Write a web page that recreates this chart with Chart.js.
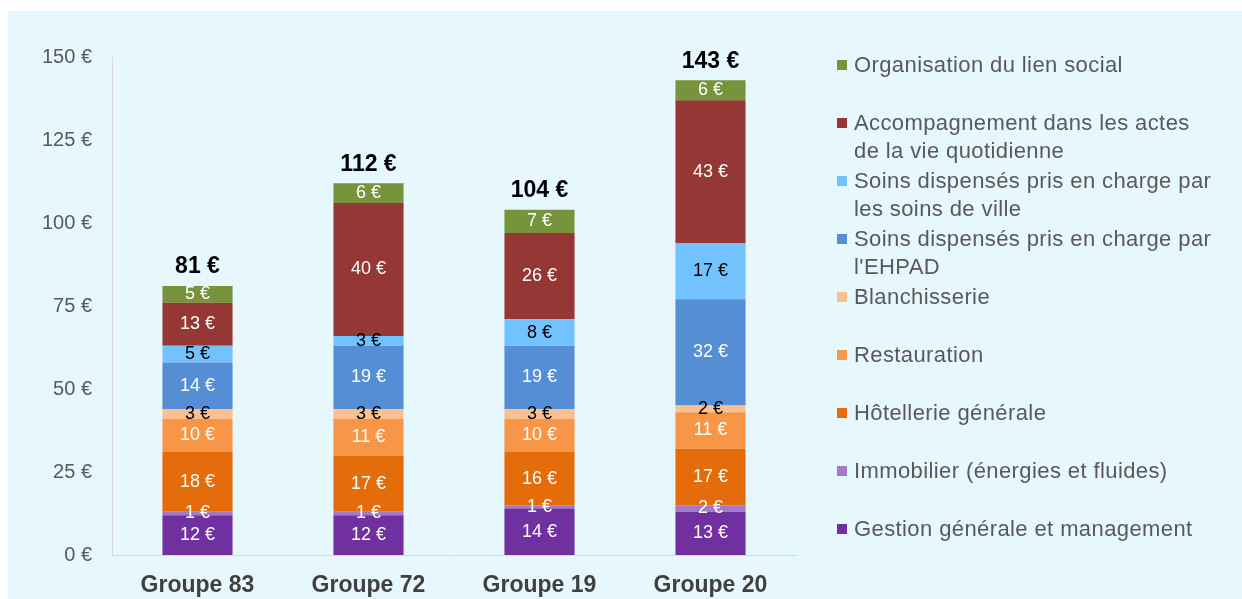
<!DOCTYPE html>
<html>
<head>
<meta charset="utf-8">
<script src="https://cdn.jsdelivr.net/npm/chart.js@4.4.1/dist/chart.umd.min.js"></script>
<style>
  body { margin: 0; background: #ffffff; }
  #panel { position: absolute; left: 8px; top: 11px; width: 1234px; height: 588px; background: #e6f7fd; }
  #wrap { position: absolute; left: 0; top: 0; width: 1242px; height: 599px; }
  #legend { position: absolute; left: 0; top: 0; font-family: "Liberation Sans", Arial, sans-serif; font-size: 22px; color: #595959; letter-spacing: 0.4px; }
  .item { position: absolute; left: 854px; line-height: 28px; white-space: nowrap; }
  .box { position: absolute; left: -17px; top: 9px; width: 10px; height: 10px; }
</style>
</head>
<body>
<div id="panel"></div>
<div id="wrap"><canvas id="chart" width="1242" height="599"></canvas></div>
<div id="legend"></div>
<script>
// categories
var groupes = ['Groupe 83', 'Groupe 72', 'Groupe 19', 'Groupe 20'];

// series (bottom to top of the stack)
var gestion = [12, 12, 14, 13];
var immobilier = [1, 1, 1, 2];
var hotellerie = [18, 17, 16, 17];
var restauration = [10, 11, 10, 11];
var blanchisserie = [3, 3, 3, 2];
var soinsEhpad = [14, 19, 19, 32];
var soinsVille = [5, 3, 8, 17];
var accompagnement = [13, 40, 26, 43];
var organisation = [5, 6, 7, 6];

// y axis ticks
var yTicks = [0, 25, 50, 75, 100, 125, 150];

var series = [
  { label: 'Gestion générale et management', lines: ['Gestion générale et management'], data: gestion, color: '#7030a0', text: '#ffffff' },
  { label: 'Immobilier (énergies et fluides)', lines: ['Immobilier (énergies et fluides)'], data: immobilier, color: '#a27ac8', text: '#ffffff' },
  { label: 'Hôtellerie générale', lines: ['Hôtellerie générale'], data: hotellerie, color: '#e46c0a', text: '#ffffff' },
  { label: 'Restauration', lines: ['Restauration'], data: restauration, color: '#f79646', text: '#ffffff' },
  { label: 'Blanchisserie', lines: ['Blanchisserie'], data: blanchisserie, color: '#fac090', text: '#000000' },
  { label: "Soins dispensés pris en charge par l'EHPAD", lines: ['Soins dispensés pris en charge par', "l'EHPAD"], data: soinsEhpad, color: '#558ed5', text: '#ffffff' },
  { label: 'Soins dispensés pris en charge par les soins de ville', lines: ['Soins dispensés pris en charge par', 'les soins de ville'], data: soinsVille, color: '#72c2fe', text: '#000000' },
  { label: 'Accompagnement dans les actes de la vie quotidienne', lines: ['Accompagnement dans les actes', 'de la vie quotidienne'], data: accompagnement, color: '#953735', text: '#ffffff' },
  { label: 'Organisation du lien social', lines: ['Organisation du lien social'], data: organisation, color: '#77933c', text: '#ffffff' }
];

// legend (top item = top of stack)
var legendY = [529, 471, 413, 355, 297, 239, 181, 123, 65];
var legend = document.getElementById('legend');
series.forEach(function(s, i) {
  var div = document.createElement('div');
  div.className = 'item';
  div.style.top = (legendY[i] - 14) + 'px';
  div.innerHTML = '<span class="box" style="background:' + s.color + '"></span>' + s.lines.join('<br>');
  legend.appendChild(div);
});

// labels inside the segments and totals above the bars
var valueLabels = {
  id: 'valueLabels',
  afterDatasetsDraw: function(chart) {
    var ctx = chart.ctx;
    ctx.save();
    ctx.textAlign = 'center';
    ctx.textBaseline = 'middle';
    ctx.font = '18px "Liberation Sans", Arial, sans-serif';
    chart.data.datasets.forEach(function(ds, i) {
      var meta = chart.getDatasetMeta(i);
      meta.data.forEach(function(bar, j) {
        ctx.fillStyle = series[i].text;
        ctx.fillText(ds.data[j] + ' €', bar.x, (bar.y + bar.base) / 2);
      });
    });
    ctx.font = 'bold 23px "Liberation Sans", Arial, sans-serif';
    ctx.fillStyle = '#000000';
    var last = chart.getDatasetMeta(chart.data.datasets.length - 1);
    groupes.forEach(function(g, j) {
      var total = 0;
      series.forEach(function(s) { total += s.data[j]; });
      ctx.fillText(total + ' €', last.data[j].x, last.data[j].y - 19);
    });
    ctx.restore();
  }
};

new Chart(document.getElementById('chart').getContext('2d'), {
  type: 'bar',
  data: {
    labels: groupes,
    datasets: series.map(function(s) {
      return {
        label: s.label,
        data: s.data,
        backgroundColor: s.color,
        borderWidth: 0,
        barPercentage: 0.41,
        categoryPercentage: 1
      };
    })
  },
  options: {
    responsive: false,
    animation: false,
    layout: { padding: { top: 57, right: 446, left: 0, bottom: 0 } },
    plugins: {
      legend: { display: false },
      tooltip: { enabled: false }
    },
    scales: {
      x: {
        stacked: true,
        grid: { display: false, drawTicks: false },
        border: { color: '#d9d9d9', width: 1 },
        ticks: {
          padding: 17,
          color: '#404040',
          font: { family: '"Liberation Sans", Arial, sans-serif', size: 23, weight: 'bold' }
        },
        afterFit: function(scale) { scale.height = 44; }
      },
      y: {
        stacked: true,
        min: 0,
        max: 150,
        afterBuildTicks: function(scale) {
          scale.ticks = yTicks.map(function(v) { return { value: v }; });
        },
        grid: { display: false, drawTicks: false },
        border: { color: '#d9d9d9', width: 1 },
        ticks: {
          padding: 20,
          color: '#595959',
          font: { family: '"Liberation Sans", Arial, sans-serif', size: 20 },
          callback: function(v) { return v + ' €'; }
        },
        afterFit: function(scale) { scale.width = 112; }
      }
    }
  },
  plugins: [valueLabels]
});
</script>
</body>
</html>
